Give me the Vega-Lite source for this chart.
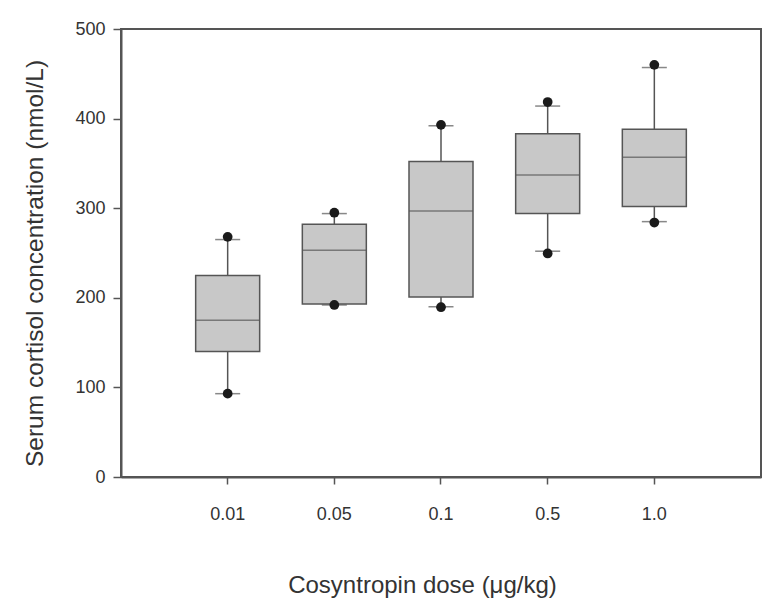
{
  "$schema": "https://vega.github.io/schema/vega-lite/v6.json",
  "width": 640,
  "height": 448,
  "autosize": "none",
  "padding": {"left": 121, "top": 29, "right": 3, "bottom": 131},
  "background": "white",
  "config": {
    "view": {"stroke": "#555555", "strokeWidth": 2},
    "font": "Liberation Sans"
  },
  "data": {
    "values": [
      {"dose": "0.01", "lo": 93, "q1": 140, "med": 175, "q3": 225, "hi": 265, "plo": 93, "phi": 268},
      {"dose": "0.05", "lo": 192, "q1": 193, "med": 253, "q3": 282, "hi": 294, "plo": 192, "phi": 295},
      {"dose": "0.1", "lo": 190, "q1": 201, "med": 297, "q3": 352, "hi": 392, "plo": 189.5, "phi": 393},
      {"dose": "0.5", "lo": 252, "q1": 294, "med": 337, "q3": 383, "hi": 414, "plo": 249.5, "phi": 418.5},
      {"dose": "1.0", "lo": 285, "q1": 302, "med": 357, "q3": 388, "hi": 457, "plo": 284, "phi": 460}
    ]
  },
  "encoding": {
    "x": {
      "field": "dose",
      "type": "nominal",
      "sort": ["0.01", "0.05", "0.1", "0.5", "1.0"],
      "scale": {"type": "band", "paddingInner": 0, "paddingOuter": 0.5},
      "axis": {
        "title": "Cosyntropin dose (μg/kg)",
        "labelAngle": 0,
        "bandPosition": 0.5,
        "domainColor": "#555555",
        "domainWidth": 2,
        "tickColor": "#555555",
        "tickWidth": 1.5,
        "tickSize": 7,
        "labelFontSize": 18,
        "labelColor": "#333333",
        "labelPadding": 21,
        "titleFontSize": 24,
        "titleFontWeight": "normal",
        "titleColor": "#333333",
        "titleX": 301,
        "titleY": 115,
        "titleBaseline": "alphabetic"
      }
    }
  },
  "layer": [
    {
      "mark": {"type": "rule", "color": "#555555", "strokeWidth": 1.5},
      "encoding": {
        "y": {
          "field": "lo",
          "type": "quantitative",
          "scale": {"domain": [0, 500], "nice": false},
          "axis": {
            "title": "Serum cortisol concentration (nmol/L)",
            "values": [0, 100, 200, 300, 400, 500],
            "grid": false,
            "domainColor": "#555555",
            "domainWidth": 2,
            "tickColor": "#555555",
            "tickWidth": 1.5,
            "tickSize": 8,
            "labelFontSize": 18,
            "labelColor": "#333333",
            "labelPadding": 8,
            "titleFontSize": 24.5,
            "titleFontWeight": "normal",
            "titleColor": "#333333",
            "titleX": -79,
            "titleY": 234,
            "titleAngle": -90,
            "titleBaseline": "alphabetic",
            "titleAlign": "center"
          }
        },
        "y2": {"field": "hi"}
      }
    },
    {
      "mark": {"type": "bar", "size": 64, "fill": "#c8c8c8", "stroke": "#555555", "strokeWidth": 1.5},
      "encoding": {
        "y": {"field": "q1", "type": "quantitative"},
        "y2": {"field": "q3"}
      }
    },
    {
      "mark": {"type": "tick", "size": 64, "thickness": 1.5, "color": "#555555"},
      "encoding": {"y": {"field": "med", "type": "quantitative"}}
    },
    {
      "mark": {"type": "tick", "size": 25, "thickness": 1.5, "color": "#555555"},
      "encoding": {"y": {"field": "lo", "type": "quantitative"}}
    },
    {
      "mark": {"type": "tick", "size": 25, "thickness": 1.5, "color": "#555555"},
      "encoding": {"y": {"field": "hi", "type": "quantitative"}}
    },
    {
      "mark": {"type": "point", "filled": true, "size": 95, "color": "#1a1a1a", "opacity": 1},
      "encoding": {"y": {"field": "plo", "type": "quantitative"}}
    },
    {
      "mark": {"type": "point", "filled": true, "size": 95, "color": "#1a1a1a", "opacity": 1},
      "encoding": {"y": {"field": "phi", "type": "quantitative"}}
    }
  ]
}
